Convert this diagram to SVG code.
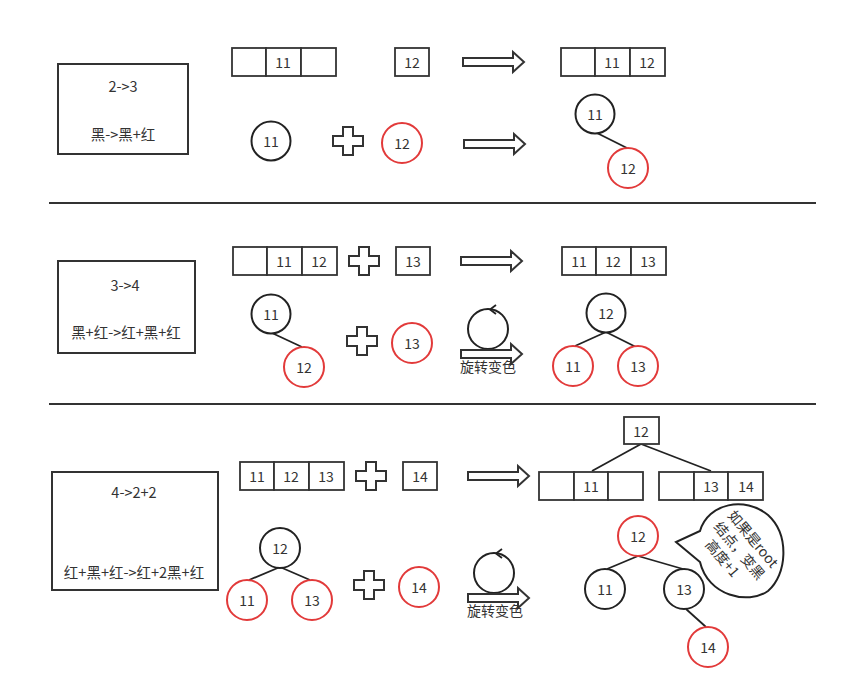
<svg xmlns="http://www.w3.org/2000/svg" xmlns:xlink="http://www.w3.org/1999/xlink" width="848" height="698" viewBox="0 0 848 698">
<style>
text{font-family:"Noto Sans CJK SC","Liberation Sans",sans-serif;font-size:14px;fill:#333;text-anchor:middle;dominant-baseline:central}
.d{font-size:14.5px}
.box{fill:#fff;stroke:#333;stroke-width:2}
.cell{fill:#fff;stroke:#333;stroke-width:1.8}
.bk{fill:#fff;stroke:#222;stroke-width:2}
.rd{fill:#fff;stroke:#e23a3a;stroke-width:2}
.ln{stroke:#222;stroke-width:1.8;fill:none}
.sh{fill:#fff;stroke:#333;stroke-width:2;stroke-linejoin:miter}
.sep{stroke:#333;stroke-width:1.8}
</style>
<defs>
<path id="arrow" d="M0,-4 H50 V-10 L61,0 L50,10 V4 H0 Z" class="sh"/>
<path id="plus" d="M-5,-14 H5 V-5 H15 V5 H5 V14 H-5 V5 H-15 V-5 H-5 Z" class="sh"/>
</defs>
<rect width="848" height="698" fill="#fff"/>

<g id="separators">
<line class="sep" x1="49" y1="203" x2="816" y2="203"/>
<line class="sep" x1="49" y1="404" x2="816" y2="404"/>
</g>

<g id="connectors">
<line class="ln" x1="597" y1="133" x2="627" y2="148"/>
<line class="ln" x1="272" y1="333" x2="302" y2="347"/>
<line class="ln" x1="606" y1="332" x2="575" y2="346"/>
<line class="ln" x1="606" y1="332" x2="636" y2="347"/>
<line class="ln" x1="641" y1="444" x2="592" y2="471"/>
<line class="ln" x1="641" y1="444" x2="711" y2="471"/>
<line class="ln" x1="638" y1="556" x2="607" y2="569"/>
<line class="ln" x1="638" y1="556" x2="683" y2="569"/>
<line class="ln" x1="686" y1="609" x2="706" y2="627"/>
<line class="ln" x1="280" y1="567" x2="249" y2="580"/>
<line class="ln" x1="280" y1="567" x2="310" y2="580"/>
<use xlink:href="#arrow" x="463" y="62"/>
<use xlink:href="#arrow" x="464" y="144"/>
<use xlink:href="#arrow" x="461" y="261"/>
<use xlink:href="#arrow" x="468" y="476"/>
</g>

<!-- Row 1 -->
<g id="desc1">
<rect class="box" x="58" y="64" width="130" height="90"/>
<text class="d" x="123" y="85">2->3</text>
<text class="d" x="123" y="133">黑->黑+红</text>
</g>
<g id="arr1a">
<rect class="cell" x="232" y="48" width="34" height="28"/>
<rect class="cell" x="266" y="48" width="35" height="28"/>
<rect class="cell" x="301" y="48" width="35" height="28"/>
<text x="283" y="62">11</text>
</g>
<g id="box12a">
<rect class="cell" x="395" y="48" width="34" height="28"/>
<text x="412" y="62">12</text>
</g>
<g id="arr1b">
<rect class="cell" x="561" y="48" width="34" height="28"/>
<rect class="cell" x="595" y="48" width="35" height="28"/>
<rect class="cell" x="630" y="48" width="35" height="28"/>
<text x="612" y="62">11</text>
<text x="647" y="62">12</text>
</g>
<g id="n11a"><circle class="bk" cx="271" cy="141" r="19.5"/><text x="271" y="141">11</text></g>
<g id="plus1"><use xlink:href="#plus" x="348" y="141"/></g>
<g id="n12a"><circle class="rd" cx="402" cy="143" r="20"/><text x="402" y="143">12</text></g>
<g id="n11b"><circle class="bk" cx="595" cy="114" r="19.5"/><text x="595" y="114">11</text></g>
<g id="n12b"><circle class="rd" cx="628" cy="168" r="20"/><text x="628" y="168">12</text></g>

<!-- Row 2 -->
<g id="desc2">
<rect class="box" x="58" y="261" width="137" height="92"/>
<text class="d" x="125" y="284">3->4</text>
<text class="d" x="126" y="331">黑+红->红+黑+红</text>
</g>
<g id="arr2a">
<rect class="cell" x="233" y="247" width="34" height="28"/>
<rect class="cell" x="267" y="247" width="35" height="28"/>
<rect class="cell" x="302" y="247" width="35" height="28"/>
<text x="284" y="261">11</text>
<text x="319" y="261">12</text>
</g>
<g id="plus2"><use xlink:href="#plus" x="364" y="261"/></g>
<g id="box13a">
<rect class="cell" x="396" y="247" width="34" height="28"/>
<text x="413" y="261">13</text>
</g>
<g id="arr2b">
<rect class="cell" x="562" y="247" width="34" height="28"/>
<rect class="cell" x="596" y="247" width="35" height="28"/>
<rect class="cell" x="631" y="247" width="35" height="28"/>
<text x="579" y="261">11</text>
<text x="613" y="261">12</text>
<text x="648" y="261">13</text>
</g>
<g id="n11c"><circle class="bk" cx="271" cy="314" r="19.5"/><text x="271" y="314">11</text></g>
<g id="n12c"><circle class="rd" cx="304" cy="367" r="20"/><text x="304" y="367">12</text></g>
<g id="plus3"><use xlink:href="#plus" x="362" y="341"/></g>
<g id="n13c"><circle class="rd" cx="412" cy="343" r="20"/><text x="412" y="343">13</text></g>
<g id="rot1">
<circle class="bk" cx="488" cy="329" r="20"/>
<path class="ln" d="M496,305 L490,309.5 L496,314"/>
<use xlink:href="#arrow" x="461" y="354"/>
<text x="488" y="366">旋转变色</text>
</g>
<g id="n12d"><circle class="bk" cx="606" cy="313" r="19.5"/><text x="606" y="313">12</text></g>
<g id="n11d"><circle class="rd" cx="573" cy="366" r="20"/><text x="573" y="366">11</text></g>
<g id="n13d"><circle class="rd" cx="638" cy="366" r="20"/><text x="638" y="366">13</text></g>

<!-- Row 3 -->
<g id="desc3">
<rect class="box" x="52" y="472" width="166" height="118"/>
<text class="d" x="134" y="491">4->2+2</text>
<text class="d" x="134" y="571">红+黑+红->红+2黑+红</text>
</g>
<g id="arr3a">
<rect class="cell" x="240" y="462" width="34" height="28"/>
<rect class="cell" x="274" y="462" width="35" height="28"/>
<rect class="cell" x="309" y="462" width="35" height="28"/>
<text x="257" y="476">11</text>
<text x="291" y="476">12</text>
<text x="326" y="476">13</text>
</g>
<g id="plus4"><use xlink:href="#plus" x="371" y="476"/></g>
<g id="box14a">
<rect class="cell" x="403" y="462" width="34" height="28"/>
<text x="420" y="476">14</text>
</g>
<g id="box12e">
<rect class="cell" x="624" y="417" width="35" height="27"/>
<text x="641" y="431">12</text>
</g>
<g id="arr3b">
<rect class="cell" x="539" y="472" width="35" height="28"/>
<rect class="cell" x="574" y="472" width="34" height="28"/>
<rect class="cell" x="608" y="472" width="35" height="28"/>
<text x="591" y="486">11</text>
</g>
<g id="arr3c">
<rect class="cell" x="659" y="472" width="35" height="28"/>
<rect class="cell" x="694" y="472" width="34" height="28"/>
<rect class="cell" x="728" y="472" width="35" height="28"/>
<text x="711" y="486">13</text>
<text x="746" y="486">14</text>
</g>
<g id="n12f"><circle class="bk" cx="280" cy="548" r="20"/><text x="280" y="548">12</text></g>
<g id="n11f"><circle class="rd" cx="247" cy="600" r="20"/><text x="247" y="600">11</text></g>
<g id="n13f"><circle class="rd" cx="312" cy="600" r="20"/><text x="312" y="600">13</text></g>
<g id="plus5"><use xlink:href="#plus" x="369" y="585"/></g>
<g id="n14f"><circle class="rd" cx="419" cy="587" r="20"/><text x="419" y="587">14</text></g>
<g id="rot2">
<circle class="bk" cx="494" cy="573" r="20"/>
<path class="ln" d="M502,549 L496,553.5 L502,558"/>
<use xlink:href="#arrow" x="468" y="598"/>
<text x="495" y="610">旋转变色</text>
</g>
<g id="n12g"><circle class="rd" cx="638" cy="536" r="20"/><text x="638" y="536">12</text></g>
<g id="n11g"><circle class="bk" cx="605" cy="589" r="20"/><text x="605" y="589">11</text></g>
<g id="n13g"><circle class="bk" cx="684" cy="589" r="20"/><text x="684" y="589">13</text></g>
<g id="n14g"><circle class="rd" cx="708" cy="647" r="20"/><text x="708" y="647">14</text></g>
<g id="bubble">
<path d="M700,531 C708,503 745,496 768,515 C790,535 787,575 768,591 C748,605 708,596 700,562 L676,542 Z" fill="#fff" stroke="#222" stroke-width="2" stroke-linejoin="miter"/>
<g transform="rotate(50 740 550)">
<text x="740" y="532" font-size="13.5">如果是root</text>
<text x="740" y="550" font-size="13.5">结点，变黑</text>
<text x="735" y="568" font-size="13.5">高度+1</text>
</g>
</g>
</svg>
